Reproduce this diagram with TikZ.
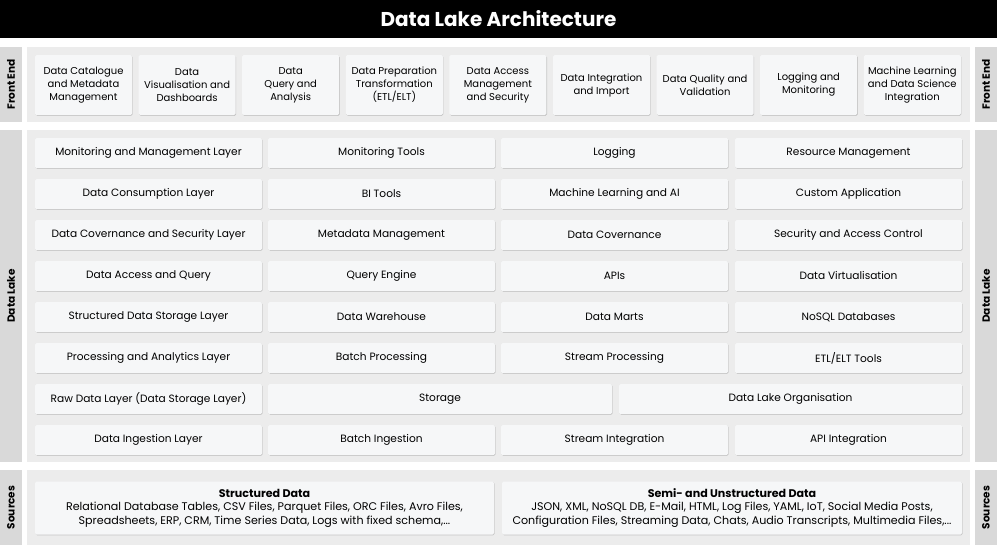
\documentclass[tikz,border=0pt]{standalone}
\usepackage{fontspec}
\setmainfont{Poppins}
\usetikzlibrary{shadows}
\definecolor{bandgrey}{HTML}{ECECEC}
\definecolor{stripgrey}{HTML}{D9D9D9}
\definecolor{boxfill}{HTML}{F6F7F8}
\tikzset{
  cell/.style={fill=boxfill,rounded corners=1.5pt,drop shadow={shadow xshift=0.6pt,shadow yshift=-0.8pt,opacity=0.35},
    align=center,font=\fontsize{10.6}{13.5}\selectfont,inner sep=0pt},
  sidelabel/.style={rotate=90,font=\bfseries\fontsize{10.5}{12}\selectfont}
}
\begin{document}
\begin{tikzpicture}[x=1pt,y=-1pt]
\useasboundingbox (0,0) rectangle (997,547);
\fill[white] (0,0) rectangle (997,547);

% title
\fill[black] (0,0) rectangle (997,38);
\node[white,font=\bfseries\fontsize{20}{24}\selectfont] (title) at (498.5,19) {Data Lake Architecture};

% bands and side strips
\fill[bandgrey] (27,47) rectangle (970,122);
\fill[bandgrey] (27,130) rectangle (970,462);
\fill[bandgrey] (27,470) rectangle (970,545);
\foreach \ya/\yb/\lab in {47/122/Front End,130/462/Data Lake,470/545/Sources}{
  \fill[stripgrey] (0,\ya) rectangle (22,\yb);
  \fill[stripgrey] (975,\ya) rectangle (997,\yb);
  \node[sidelabel] at (11,{(\ya+\yb)/2}) {\lab};
  \node[sidelabel] at (986,{(\ya+\yb)/2}) {\lab};
}

% front end
\foreach \t [count=\i from 0] in {{Data Catalogue\\and Metadata\\Management},{Data\\Visualisation and\\Dashboards},
  {Data\\Query and\\Analysis},{Data Preparation\\Transformation\\(ETL/ELT)},{Data Access\\Management\\and Security},
  {Data Integration\\and Import},{Data Quality and\\Validation},{Logging and\\Monitoring},
  {Machine Learning\\and Data Science\\Integration}}
  \node[cell,font=\fontsize{10}{13}\selectfont,minimum width=97pt,minimum height=60pt] (fe\i) at ({83.5+\i*103.6},85) {\t};

% data lake rows
\foreach \a/\b/\c/\d [count=\r from 0] in {
  Monitoring and Management Layer/Monitoring Tools/Logging/Resource Management,
  Data Consumption Layer/BI Tools/Machine Learning and AI/Custom Application,
  Data Covernance and Security Layer/Metadata Management/Data Covernance/Security and Access Control,
  Data Access and Query/Query Engine/APIs/Data Virtualisation,
  Structured Data Storage Layer/Data Warehouse/Data Marts/NoSQL Databases,
  Processing and Analytics Layer/Batch Processing/Stream Processing/{ETL/ELT Tools}}{
  \node[cell,minimum width=227pt,minimum height=30pt] (dl\r a) at (148.5,{153+\r*41}) {\a};
  \node[cell,minimum width=227pt,minimum height=30pt] (dl\r b) at (381.5,{153+\r*41}) {\b};
  \node[cell,minimum width=227pt,minimum height=30pt] (dl\r c) at (614.5,{153+\r*41}) {\c};
  \node[cell,minimum width=227pt,minimum height=30pt] (dl\r d) at (848.5,{153+\r*41}) {\d};
}
\node[cell,minimum width=227pt,minimum height=30pt] (raw) at (148.5,399) {Raw Data Layer (Data Storage Layer)};
\node[cell,minimum width=344pt,minimum height=30pt] (storage) at (440,399) {Storage};
\node[cell,minimum width=343pt,minimum height=30pt] (org) at (790.5,399) {Data Lake Organisation};
\node[cell,minimum width=227pt,minimum height=30pt] (ingest) at (148.5,440) {Data Ingestion Layer};
\node[cell,minimum width=227pt,minimum height=30pt] (batch) at (381.5,440) {Batch Ingestion};
\node[cell,minimum width=227pt,minimum height=30pt] (stream) at (614.5,440) {Stream Integration};
\node[cell,minimum width=227pt,minimum height=30pt] (api) at (848.5,440) {API Integration};

% sources
\node[cell,font=\fontsize{11.1}{13.5}\selectfont,minimum width=459pt,minimum height=53pt] (structured) at (264.5,508)
  {\textbf{Structured Data}\\Relational Database Tables, CSV Files, Parquet Files, ORC Files, Avro Files,\\Spreadsheets, ERP, CRM, Time Series Data, Logs with fixed schema,...};
\node[cell,font=\fontsize{11.1}{13.5}\selectfont,minimum width=460pt,minimum height=53pt] (semi) at (732,508)
  {\textbf{Semi- and Unstructured Data}\\JSON, XML, NoSQL DB, E-Mail, HTML, Log Files, YAML, IoT, Social Media Posts,\\Configuration Files, Streaming Data, Chats, Audio Transcripts, Multimedia Files,...};
\end{tikzpicture}
\end{document}
